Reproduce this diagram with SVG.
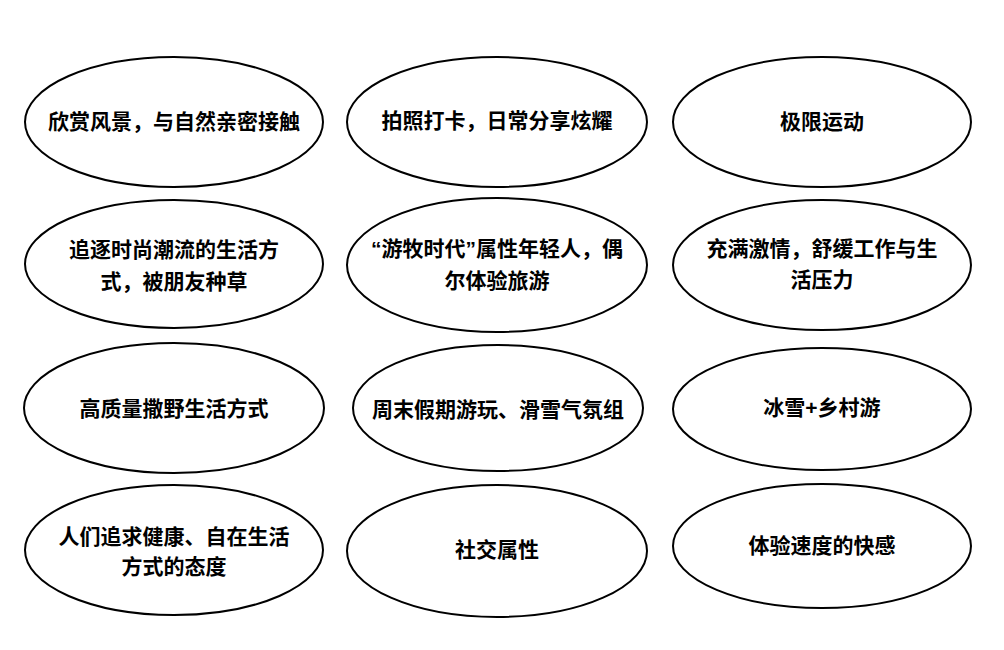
<svg xmlns="http://www.w3.org/2000/svg" width="1004" height="650" viewBox="0 0 1004 650">
<style>
.n ellipse{fill:#fff;stroke:#000;stroke-width:2}
.n text{font-family:"Liberation Sans","Noto Sans CJK SC",sans-serif;font-size:21px;font-weight:bold;fill:#000;text-anchor:middle}
</style>
<rect width="1004" height="650" fill="#fff"/>
<g id="connectors"/>
<g id="n1" class="n"><ellipse cx="174" cy="122" rx="149" ry="65"/><text x="174" y="129">欣赏风景，与自然亲密接触</text></g>
<g id="n2" class="n"><ellipse cx="497" cy="122" rx="150" ry="65"/><text x="497" y="128">拍照打卡，日常分享炫耀</text></g>
<g id="n3" class="n"><ellipse cx="822" cy="122" rx="149" ry="65"/><text x="822" y="129">极限运动</text></g>
<g id="n4" class="n"><ellipse cx="174" cy="264" rx="149" ry="64"/><text x="174" y="257">追逐时尚潮流的生活方</text><text x="174" y="289">式，被朋友种草</text></g>
<g id="n5" class="n"><ellipse cx="497" cy="265" rx="150" ry="67"/><text x="497" y="256">“游牧时代”属性年轻人，偶</text><text x="497" y="288">尔体验旅游</text></g>
<g id="n6" class="n"><ellipse cx="822" cy="265" rx="149" ry="65"/><text x="822" y="256">充满激情，舒缓工作与生</text><text x="822" y="287">活压力</text></g>
<g id="n7" class="n"><ellipse cx="174" cy="408" rx="150" ry="65"/><text x="174" y="416">高质量撒野生活方式</text></g>
<g id="n8" class="n"><ellipse cx="498" cy="408" rx="145" ry="63"/><text x="498" y="417">周末假期游玩、滑雪气氛组</text></g>
<g id="n9" class="n"><ellipse cx="822" cy="409" rx="149" ry="61"/><text x="822" y="415">冰雪+乡村游</text></g>
<g id="n10" class="n"><ellipse cx="174" cy="550" rx="149" ry="65"/><text x="174" y="544">人们追求健康、自在生活</text><text x="174" y="574">方式的态度</text></g>
<g id="n11" class="n"><ellipse cx="497" cy="551" rx="150" ry="66"/><text x="497" y="557">社交属性</text></g>
<g id="n12" class="n"><ellipse cx="822" cy="546" rx="149" ry="62"/><text x="822" y="553">体验速度的快感</text></g>
</svg>
